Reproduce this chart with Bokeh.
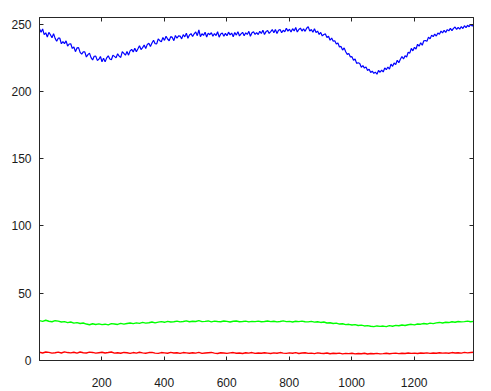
from bokeh.plotting import figure
from bokeh.models import Range1d, LinearAxis, FixedTicker, CustomJSTickFormatter
from bokeh.embed import file_html
from bokeh.resources import INLINE

# blue channel, sampled every 5 columns starting at 1
blue = [
    246.7, 244.1, 246.5, 242.3, 243.6, 240.5, 243.9, 242.2, 240.0, 243.0,
    239.5, 237.4, 239.6, 239.6, 235.5, 237.1, 235.6, 237.6, 233.8, 235.3,
    235.5, 232.0, 233.1, 229.6, 232.4, 232.6, 229.1, 227.7, 229.4, 229.4,
    225.6, 227.4, 228.5, 225.2, 223.4, 226.2, 226.3, 223.1, 223.9, 226.0,
    222.1, 224.8, 222.0, 225.0, 226.5, 224.1, 223.6, 226.9, 226.1, 225.0,
    228.0, 226.3, 225.3, 229.6, 228.3, 227.0, 229.7, 227.0, 230.2, 231.3,
    229.3, 232.2, 229.5, 231.7, 234.0, 231.2, 232.6, 234.6, 231.9, 235.0,
    235.9, 233.4, 236.0, 238.1, 235.5, 235.4, 239.1, 237.8, 237.0, 240.2,
    238.0, 241.1, 239.0, 237.7, 240.8, 240.2, 237.8, 241.6, 239.6, 241.3,
    241.2, 239.1, 242.3, 240.6, 243.3, 239.6, 242.0, 243.0, 240.9, 242.9,
    244.3, 241.5, 245.7, 240.8, 242.9, 241.7, 244.0, 240.5, 243.4, 242.2,
    243.7, 241.1, 243.1, 241.6, 244.4, 240.4, 242.7, 243.5, 241.0, 243.2,
    241.4, 244.1, 242.1, 243.4, 240.7, 243.8, 241.9, 244.5, 241.3, 242.8,
    244.0, 241.4, 243.6, 242.4, 244.7, 241.1, 243.6, 244.4, 242.4, 243.8,
    242.3, 244.7, 243.1, 245.6, 242.4, 244.5, 245.4, 243.2, 244.5, 246.0,
    243.6, 246.1, 243.1, 245.5, 246.1, 243.7, 245.5, 244.4, 247.0, 244.9,
    246.3, 244.2, 246.7, 245.0, 247.6, 244.2, 246.1, 247.1, 244.9, 246.6,
    244.7, 247.0, 248.2, 244.9, 246.1, 244.0, 246.6, 243.9, 244.9, 242.4,
    243.9, 241.3, 242.4, 242.8, 240.2, 241.1, 238.1, 239.7, 237.4, 237.7,
    235.3, 236.1, 233.1, 233.5, 230.8, 232.4, 229.5, 227.6, 228.2, 225.7,
    225.9, 223.2, 224.2, 220.9, 221.4, 220.8, 218.0, 219.2, 217.4, 218.2,
    215.6, 216.6, 214.1, 215.1, 213.5, 214.4, 212.8, 215.6, 214.3, 215.9,
    214.5, 217.5, 216.2, 218.2, 216.6, 220.3, 218.7, 221.2, 220.0, 223.2,
    221.4, 224.0, 226.0, 224.2, 226.5, 225.6, 229.2, 228.5, 232.0, 230.2,
    232.8, 231.6, 235.1, 233.7, 236.2, 234.4, 237.7, 237.9, 237.3, 240.4,
    239.1, 241.9, 240.8, 242.6, 241.2, 243.5, 242.6, 244.9, 243.6, 245.5,
    243.9, 246.0, 245.1, 246.9, 245.3, 246.9, 247.9, 246.1, 247.7, 246.3,
    248.3, 246.8, 248.9, 247.5, 249.2, 248.1, 249.9, 248.6, 250.1,
]

# green channel, sampled every 10 columns starting at 1
green = [
    29.6, 29.1, 29.9, 29.2, 28.8, 29.6, 29.3, 28.6, 28.9, 28.2,
    28.6, 27.8, 28.2, 27.5, 27.9, 27.1, 26.6, 27.3, 26.8, 27.2,
    26.7, 27.0, 26.5, 27.4, 27.1, 26.8, 27.6, 27.0, 27.5, 27.9,
    27.4, 28.0, 27.6, 28.3, 27.8, 28.1, 28.6, 28.0, 28.5, 28.9,
    28.4, 29.1, 28.6, 28.8, 29.3, 28.7, 29.0, 29.5, 28.8, 29.2,
    29.0, 29.6, 28.9, 29.1, 29.4, 28.7, 29.3, 29.0, 28.8, 29.4,
    29.1, 28.6, 29.2, 29.4, 28.8, 29.0, 29.3, 28.7, 29.1, 28.9,
    29.3, 28.8, 29.0, 29.4, 28.9, 29.2, 28.7, 29.0, 29.5, 28.9,
    29.1, 28.6, 29.2, 28.9, 29.3, 28.8, 28.7, 29.1, 28.5, 28.8,
    28.3, 28.6, 27.9, 28.1, 27.5, 27.8, 27.1, 27.3, 26.7, 26.9,
    26.4, 26.7, 26.0, 26.3, 25.7, 25.9, 25.5, 25.2, 25.7, 25.4,
    25.6, 25.2, 25.9, 25.5, 26.1, 25.8, 26.4, 26.0, 26.6, 26.9,
    26.5, 27.1, 27.0, 27.5, 27.1, 27.8, 27.4, 28.0, 28.3, 27.9,
    28.4, 28.2, 28.8, 28.4, 29.0, 28.7, 28.9, 29.3, 28.8, 29.1,
]

# red channel, sampled every 10 columns starting at 1
red = [
    6.1, 5.6, 6.3, 6.0, 5.5, 5.8, 6.2, 5.6, 6.4, 5.9,
    5.7, 6.1, 5.5, 6.3, 5.8, 5.6, 6.2, 6.0, 5.5, 5.8,
    6.1, 5.6, 5.9, 6.3, 5.5, 5.8, 5.4, 6.0, 5.8, 5.3,
    5.9, 5.5, 6.1, 5.7, 5.4, 5.9, 6.0, 5.5, 5.3, 5.9,
    5.7, 5.4, 6.0, 5.6, 5.8, 5.3, 5.9, 5.7, 5.4, 5.8,
    5.5, 6.0, 5.3, 5.6, 5.8, 6.0, 5.5, 5.2, 5.8, 5.6,
    5.3, 5.7, 5.9, 5.4, 5.6, 5.2, 5.8, 5.5, 5.9, 5.3,
    5.6, 5.4, 5.8, 5.5, 5.2, 5.7, 5.4, 5.9, 5.5, 5.3,
    5.7, 5.4, 5.9, 5.2, 5.6, 5.8, 5.3, 5.5, 5.1, 5.7,
    5.4, 5.2, 5.6, 5.0, 5.4, 5.2, 5.5, 4.9, 5.3, 5.1,
    5.4, 4.9, 5.2, 5.0, 5.4, 4.8, 5.2, 5.0, 5.3, 4.9,
    5.1, 5.4, 5.0, 5.3, 5.5, 5.1, 5.4, 5.2, 5.6, 5.3,
    5.5, 5.2, 5.6, 5.4, 5.7, 5.3, 5.6, 5.4, 5.8, 5.5,
    5.7, 5.4, 5.9, 5.6, 5.8, 5.5, 6.0, 5.7, 5.9, 6.1,
]

blue_step = 5
rg_step = 10
x_ticks = [200, 400, 600, 800, 1000, 1200]
y_ticks = [0, 50, 100, 150, 200, 250]


def xs(vals, step):
    return [1 + step * i for i in range(len(vals))]


p = figure(
    output_backend="svg", toolbar_location=None,
    frame_width=434, frame_height=343,
    min_border_left=39, min_border_top=17, min_border_right=8, min_border_bottom=30,
    x_range=Range1d(1, 1390), y_range=Range1d(0, 255),
    background_fill_color="white", border_fill_color="white",
)
p.grid.visible = False
p.outline_line_color = "#262626"
p.outline_line_width = 1

p.line(xs(blue, blue_step), blue, line_color="#0000FF", line_width=1.2)
p.line(xs(green, rg_step), green, line_color="#00FF00", line_width=1.4)
p.line(xs(red, rg_step), red, line_color="#FF0000", line_width=1.4)


def style(ax, ticks):
    ax.ticker = FixedTicker(ticks=ticks)
    ax.minor_tick_line_color = None
    ax.major_tick_in = 4
    ax.major_tick_out = 0
    ax.axis_line_color = "#262626"
    ax.major_tick_line_color = "#262626"
    ax.major_label_text_font = "Liberation Sans"
    ax.major_label_text_font_size = "12px"
    ax.major_label_text_color = "#1a1a1a"


style(p.xaxis[0], x_ticks)
style(p.yaxis[0], y_ticks)
p.xaxis[0].major_label_standoff = 17
p.yaxis[0].major_label_standoff = 8

top = LinearAxis()
right = LinearAxis()
style(top, x_ticks)
style(right, y_ticks)
top.formatter = CustomJSTickFormatter(code="return ''")
right.formatter = CustomJSTickFormatter(code="return ''")
top.major_label_standoff = 0
right.major_label_standoff = 0
p.add_layout(top, "above")
p.add_layout(right, "right")

open("out.html", "w").write(file_html(p, INLINE))
